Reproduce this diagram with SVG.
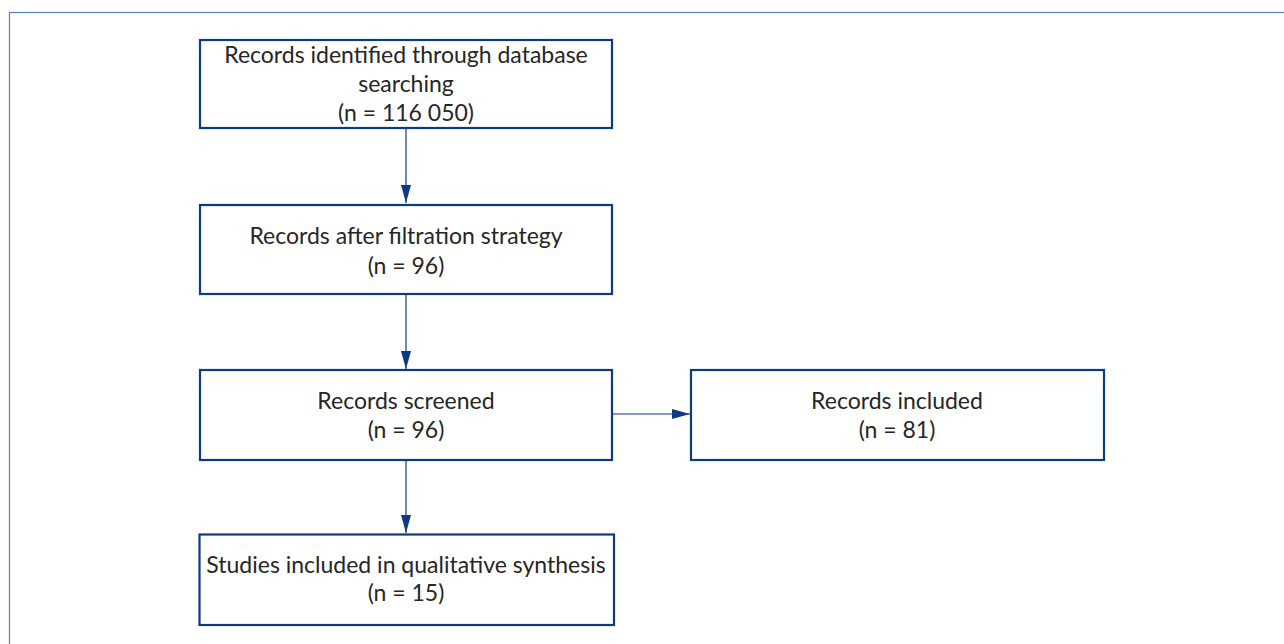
<svg xmlns="http://www.w3.org/2000/svg" width="1284" height="644" viewBox="0 0 1284 644">
<style>
.box{fill:#fff;stroke:#0e3a80;stroke-width:2.2}
.t{font-family:"Lato","Liberation Sans",sans-serif;font-size:23px;fill:#262626;text-anchor:middle}
.c{stroke:#0e3a80;stroke-width:1.2;fill:none}
</style>
<defs>
<marker id="ah" viewBox="0 0 18 10" refX="18" refY="5" markerWidth="18" markerHeight="10" markerUnits="userSpaceOnUse" orient="auto">
<path d="M0,0 L18,5 L0,10 Z" fill="#0e3a80"/>
</marker>
</defs>
<rect x="9.5" y="12.5" width="1290" height="650" fill="none" stroke="#5b7fb8" stroke-width="1.2"/>
<g id="connectors">
<line class="c" x1="406" y1="129" x2="406" y2="203" marker-end="url(#ah)"/>
<line class="c" x1="406" y1="294" x2="406" y2="369" marker-end="url(#ah)"/>
<line class="c" x1="612" y1="414" x2="690" y2="414" marker-end="url(#ah)"/>
<line class="c" x1="406" y1="460" x2="406" y2="533" marker-end="url(#ah)"/>
</g>
<g id="n1">
<rect class="box" x="200" y="40" width="412" height="88"/>
<text class="t" x="406" y="63">Records identified through database</text>
<text class="t" x="406" y="92">searching</text>
<text class="t" x="406" y="121">(n = 116 050)</text>
</g>
<g id="n2">
<rect class="box" x="200" y="205" width="412" height="89"/>
<text class="t" x="406" y="244">Records after filtration strategy</text>
<text class="t" x="406" y="274">(n = 96)</text>
</g>
<g id="n3">
<rect class="box" x="200" y="370" width="412" height="90"/>
<text class="t" x="406" y="409">Records screened</text>
<text class="t" x="406" y="438">(n = 96)</text>
</g>
<g id="n4">
<rect class="box" x="691" y="370" width="413" height="90"/>
<text class="t" x="897" y="409">Records included</text>
<text class="t" x="897" y="438">(n = 81)</text>
</g>
<g id="n5">
<rect class="box" x="199.5" y="534.5" width="414.5" height="90.5"/>
<text class="t" x="406" y="573">Studies included in qualitative synthesis</text>
<text class="t" x="406" y="601">(n = 15)</text>
</g>
</svg>
